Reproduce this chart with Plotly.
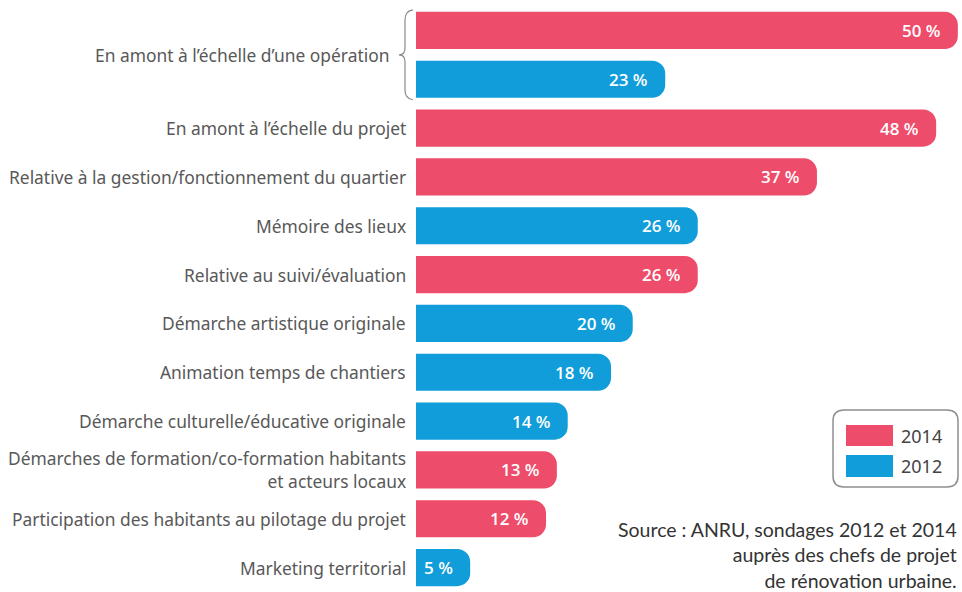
import plotly.graph_objects as go

# données : part des chefs de projet (%)
labels = [
    "En amont à l’échelle d’une opération",
    "En amont à l’échelle du projet",
    "Relative à la gestion/fonctionnement du quartier",
    "Mémoire des lieux",
    "Relative au suivi/évaluation",
    "Démarche artistique originale",
    "Animation temps de chantiers",
    "Démarche culturelle/éducative originale",
    "Démarches de formation/co-formation habitants<br>et acteurs locaux",
    "Participation des habitants au pilotage du projet",
    "Marketing territorial",
]
# position (ligne) de chaque libellé ; le premier couvre deux barres
label_rows = [0.5, 2, 3, 4, 5, 6, 7, 8, 9, 10, 11]

values = [50, 23, 48, 37, 26, 26, 20, 18, 14, 13, 12, 5]
years = ["2014", "2012", "2014", "2014", "2012", "2014", "2012", "2012", "2012", "2014", "2014", "2012"]
rows = list(range(len(values)))

colors = {"2014": "#EE4C6B", "2012": "#109DDA"}

W, H = 962, 592
ML, MR, MT, MB = 416, 2, 6, 0
PW, PH = W - ML - MR, H - MT - MB


def px(x):
    # pixel -> fraction papier (horizontal)
    return (x - ML) / PW


def py(y):
    # pixel -> fraction papier (vertical)
    return 1 - (y - MT) / PH


fig = go.Figure()
fig.add_trace(go.Bar(
    x=values,
    y=rows,
    orientation="h",
    width=0.76,
    marker=dict(color=[colors[y] for y in years], line=dict(width=0), cornerradius=13),
    showlegend=False,
    hoverinfo="skip",
))

# valeurs dans les barres
for r, v in zip(rows, values):
    fig.add_annotation(
        x=v, y=r, xref="x", yref="y", text=f"{v} %",
        showarrow=False, xanchor="right", yanchor="middle", xshift=-15,
        font=dict(family="Open Sans", size=17, color="white", weight=600),
    )

# libellés des catégories
for lab, r in zip(labels, label_rows):
    shift = -24 if r == 0.5 else -8
    fig.add_annotation(
        x=0, y=r, xref="paper", yref="y", text=lab,
        showarrow=False, xanchor="right", yanchor="middle", align="right", xshift=shift,
        font=dict(family="Noto Sans", size=17.4, color="#585858"),
    )

# accolade autour des deux premières barres
fig.add_shape(
    type="path", xref="paper", yref="y", xsizemode="pixel", xanchor=0,
    path="M -3,-0.42 Q -11,-0.40 -11,-0.22 L -11,0.36 Q -11,0.5 -17,0.5 "
         "Q -11,0.5 -11,0.64 L -11,1.22 Q -11,1.40 -3,1.42",
    line=dict(color="#8a8a8a", width=1.2),
)

# légende dessinée à la main
x0, x1, y0, y1, rr = 833, 958, 410, 487, 11
box = (f"M {px(x0 + rr)},{py(y0)} L {px(x1 - rr)},{py(y0)} Q {px(x1)},{py(y0)} {px(x1)},{py(y0 + rr)} "
       f"L {px(x1)},{py(y1 - rr)} Q {px(x1)},{py(y1)} {px(x1 - rr)},{py(y1)} "
       f"L {px(x0 + rr)},{py(y1)} Q {px(x0)},{py(y1)} {px(x0)},{py(y1 - rr)} "
       f"L {px(x0)},{py(y0 + rr)} Q {px(x0)},{py(y0)} {px(x0 + rr)},{py(y0)} Z")
fig.add_shape(type="path", xref="paper", yref="paper", path=box,
              line=dict(color="#8f8f8f", width=1.5), fillcolor="white")
for (yt, yb), yr in zip([(425, 446), (455, 477)], ["2014", "2012"]):
    fig.add_shape(type="rect", xref="paper", yref="paper",
                  x0=px(846), x1=px(893), y0=py(yb), y1=py(yt),
                  fillcolor=colors[yr], line=dict(width=0))
    fig.add_annotation(x=px(899), y=py((yt + yb) / 2), xref="paper", yref="paper",
                       text=yr, showarrow=False, xanchor="left", yanchor="middle",
                       font=dict(family="Noto Sans", size=18, color="#444444"))

# source
fig.add_annotation(
    x=px(959), y=py(516), xref="paper", yref="paper",
    text="Source : ANRU, sondages 2012 et 2014<br>auprès des chefs de projet<br>de rénovation urbaine.",
    showarrow=False, xanchor="right", yanchor="top", align="right",
    font=dict(family="Lato", size=19.5, color="#333333"),
)

fig.update_layout(
    width=W, height=H,
    margin=dict(l=ML, r=MR, t=MT, b=MB),
    paper_bgcolor="white", plot_bgcolor="white",
    xaxis=dict(range=[0, 50.2], visible=False),
    yaxis=dict(range=[11.5, -0.5], visible=False),
)

# pas de marge de page autour du graphique, pas de barre d'outils
fig.write_html("out.html", config={"displayModeBar": False},
               post_script="document.body.style.margin='0';")
